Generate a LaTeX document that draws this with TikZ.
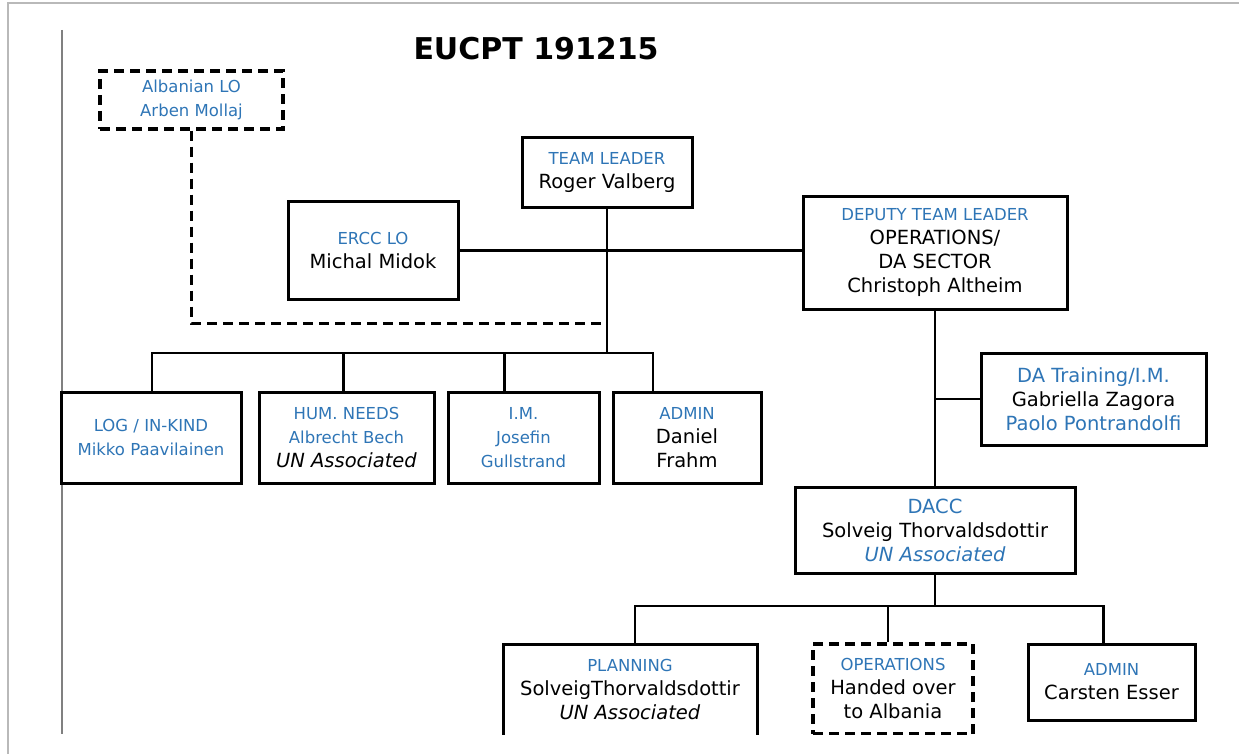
\documentclass[tikz,border=0pt]{standalone}
\usepackage{fontspec}
\usepackage{xcolor}
\usepackage{tikz}
\setmainfont{DejaVu Sans}
\definecolor{roleblue}{RGB}{46,117,182}
\newcommand{\rolesm}[1]{{\fontsize{16.5}{24}\selectfont\color{roleblue}#1}}

\begin{document}
\begin{tikzpicture}[x=1pt,y=-1pt,
		box/.style={draw, line width=3pt, align=center, inner sep=2pt, font=\fontsize{19.5}{24}\selectfont},
		dbox/.style={box, dash pattern=on 10pt off 6pt, line width=3.2pt},
		link/.style={line width=2.4pt},
		dlink/.style={line width=3pt, dash pattern=on 10pt off 6pt}]
				\useasboundingbox (0,0) rectangle (1239,754);
				\draw[gray!55, line width=2pt] (8,754) -- (8,3) -- (1239,3);
				\draw[gray, line width=1.5pt] (62,30) -- (62,734);
	
				\node[inner sep=0pt, font=\fontsize{30}{34}\selectfont\bfseries] (title) at (536,49) {EUCPT 191215};
	
				\begin{scope}
				\clip (0,0) rectangle (1239,734.5);
				\node[dbox, minimum width=183pt, minimum height=58pt] (alb) at (191.5,100) {\rolesm{Albanian LO}\\\rolesm{Arben Mollaj}};
				\node[box, minimum width=170pt, minimum height=70pt] (tl) at (607,173) {\rolesm{TEAM LEADER}\\Roger Valberg};
				\node[box, minimum width=170pt, minimum height=97pt] (ercc) at (373,250.5) {\rolesm{ERCC LO}\\Michal Midok};
				\node[box, minimum width=264pt, minimum height=112pt] (dep) at (935,253) {\rolesm{DEPUTY TEAM LEADER}\\OPERATIONS/\\DA SECTOR\\Christoph Altheim};
				\node[box, minimum width=225pt, minimum height=92pt] (datr) at (1093.5,399) {{\color{roleblue}DA Training/I.M.}\\Gabriella Zagora\\{\color{roleblue}Paolo Pontrandolfi}};
	
				\node[box, minimum width=180pt, minimum height=91pt] (log) at (151,437.5) {\rolesm{LOG / IN-KIND}\\\rolesm{Mikko Paavilainen}};
				\node[box, minimum width=175pt, minimum height=91pt] (hum) at (346.5,437.5) {\rolesm{HUM. NEEDS}\\\rolesm{Albrecht Bech}\\\textit{UN Associated}};
				\node[box, minimum width=151pt, minimum height=91pt] (im) at (523.5,437.5) {\rolesm{I.M.}\\\rolesm{Josefin}\\\rolesm{Gullstrand}};
				\node[box, minimum width=148pt, minimum height=91pt] (adm) at (687,437.5) {\rolesm{ADMIN}\\Daniel\\Frahm};
	
				\node[box, minimum width=280pt, minimum height=86pt] (dacc) at (935,530) {{\color{roleblue}DACC}\\Solveig Thorvaldsdottir\\{\color{roleblue}\itshape UN Associated}};
				\node[box, minimum width=254pt, minimum height=92pt] (plan) at (630,690) {\rolesm{PLANNING}\\SolveigThorvaldsdottir\\\textit{UN Associated}};
				\node[dbox, minimum width=160pt, minimum height=90pt] (ops) at (893,689) {\rolesm{OPERATIONS}\\Handed over\\to Albania};
				\node[box, minimum width=167pt, minimum height=76pt] (adm2) at (1111.5,682) {\rolesm{ADMIN}\\Carsten Esser};
	
				\coordinate (lobus) at (607,323);
				\coordinate (rowbus) at (607,353);
				\coordinate (daccbus) at (935,606);
	
				\draw[dlink] (alb.south) |- (lobus);
				\draw[link] (ercc.east) -- (ercc.east -| dep.west);
				\draw[link] (tl.south) -- (rowbus);
				\foreach \n/\s in {log/1,hum/-3,im/-19,adm/-34}
					\draw[link] ([xshift=\s pt]\n.north) |- (rowbus);
				\draw[link] (dep.south) -- (dacc.north);
				\draw[link] (datr.west) -- (datr.west -| dep.south);
				\draw[link] (dacc.south) -- (daccbus);
				\foreach \n/\s in {plan/5,ops/-5,adm2/-8}
					\draw[link] ([xshift=\s pt]\n.north) |- (daccbus);
				\end{scope}
			\end{tikzpicture}
\end{document}
